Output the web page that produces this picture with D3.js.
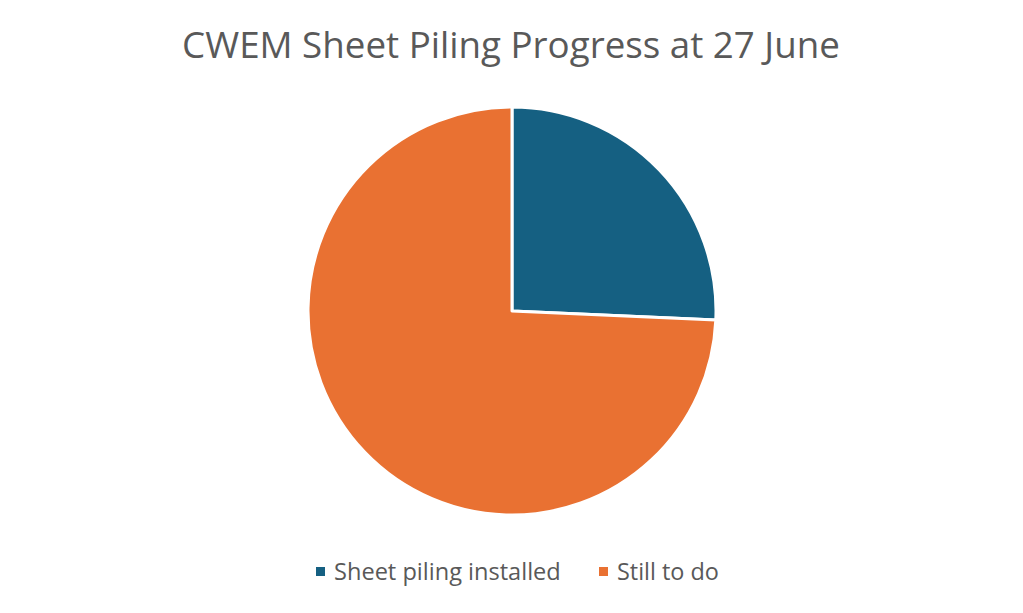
<!DOCTYPE html>
<html><head><meta charset="utf-8">
<script src="https://cdn.jsdelivr.net/npm/d3@7"></script>
<style>html,body{margin:0;padding:0;background:#fff;}</style>
</head><body>
<svg id="c" width="1023" height="613"></svg>
<script>
const title = "CWEM Sheet Piling Progress at 27 June";
const categories = ["Sheet piling installed", "Still to do"];
const values = [25.7, 74.3];
const colors = ["#156082", "#E97132"];

const svg = d3.select("#c");
const font = "'Open Sans', sans-serif";

function fit(sel, target) {
  const w = sel.node().getComputedTextLength();
  const fs = parseFloat(sel.attr("font-size"));
  sel.attr("font-size", fs * target / w);
}

const t = svg.append("text").attr("x", 511).attr("y", 58).attr("text-anchor", "middle")
  .attr("font-family", font).attr("font-size", 30).attr("fill", "#595959").text(title);
fit(t, 658);

const cx = 512, cy = 311, r = 204;
const pie = d3.pie().sort(null).value(d => d)(values);
const arc = d3.arc().innerRadius(0).outerRadius(r);
svg.append("g").attr("transform", `translate(${cx},${cy})`)
  .selectAll("path").data(pie).join("path")
  .attr("d", arc).attr("fill", (d, i) => colors[i])
  .attr("stroke", "#fff").attr("stroke-width", 3).attr("stroke-linejoin", "round");

const leg = [{x: 316, tx: 334, w: 227}, {x: 599, tx: 617, w: 102}];
categories.forEach((c, i) => {
  svg.append("rect").attr("x", leg[i].x).attr("y", 567).attr("width", 9).attr("height", 9).attr("fill", colors[i]);
  const lt = svg.append("text").attr("x", leg[i].tx).attr("y", 580)
    .attr("font-family", font).attr("font-size", 20).attr("fill", "#595959").text(c);
  fit(lt, leg[i].w);
});
</script>
</body></html>
